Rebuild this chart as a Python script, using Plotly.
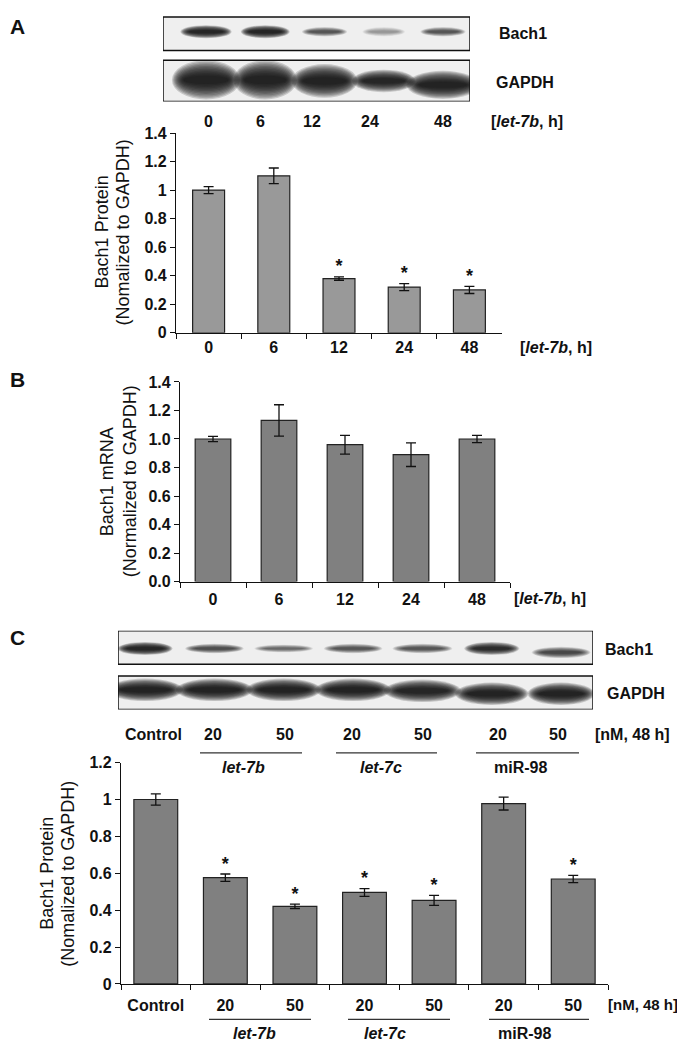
import plotly.graph_objects as go

# ---------------- data ----------------
time_cats = ["0", "6", "12", "24", "48"]
protein_A = [1.00, 1.10, 0.38, 0.32, 0.30]
protein_A_err = [0.025, 0.055, 0.012, 0.025, 0.025]
protein_A_sig = ["", "", "*", "*", "*"]

mrna_B = [1.00, 1.13, 0.96, 0.89, 1.00]
mrna_B_err = [0.018, 0.11, 0.066, 0.083, 0.025]

treat_ids = ["Control", "let-7b 20", "let-7b 50", "let-7c 20", "let-7c 50", "miR-98 20", "miR-98 50"]
treat_labels = ["Control", "20", "50", "20", "50", "20", "50"]
treat_groups = ["let-7b", "let-7c", "miR-98"]
protein_C = [1.00, 0.576, 0.421, 0.496, 0.453, 0.978, 0.569]
protein_C_err = [0.03, 0.02, 0.012, 0.021, 0.027, 0.035, 0.02]
protein_C_sig = ["", "*", "*", "*", "*", "", "*"]

# western blot band intensities (0..1)
blotA_bach1 = [0.95, 0.95, 0.5, 0.22, 0.5]
blotA_gapdh = [1.0, 1.0, 1.0, 0.95, 1.0]
blotC_bach1 = [0.95, 0.55, 0.42, 0.5, 0.5, 0.8, 0.6]
blotC_gapdh = [1.0, 1.0, 1.0, 1.0, 0.95, 1.0, 1.0]

# ---------------- layout helpers ----------------
PAGE_W, PAGE_H = 685, 1050
OFF = 8                      # default body margin of the html page
W, H = PAGE_W - OFF, PAGE_H - OFF
FONT = "Liberation Sans, Arial, sans-serif"


def fx(p):
    """page pixel x -> paper fraction"""
    return (p - OFF) / W


def fy(p):
    """page pixel y -> paper fraction"""
    return 1 - (p - OFF) / H


fig = go.Figure()

bar_line = dict(color="#222222", width=1.2)
err_style = dict(type="data", color="#111111", thickness=1.3)
star_font = dict(family=FONT, size=18, color="#111", weight="bold")

# Chart A
fig.add_trace(go.Bar(x=time_cats, y=protein_A, width=0.49,
                     marker=dict(color="#999999", line=bar_line),
                     error_y=dict(array=protein_A_err, width=5, **err_style),
                     xaxis="x", yaxis="y", showlegend=False))
fig.add_trace(go.Scatter(x=time_cats, y=[v + e for v, e in zip(protein_A, protein_A_err)],
                         mode="text", text=protein_A_sig, textposition="top center",
                         textfont=star_font, xaxis="x", yaxis="y",
                         showlegend=False, cliponaxis=False))
# Chart B
fig.add_trace(go.Bar(x=time_cats, y=mrna_B, width=0.54,
                     marker=dict(color="#808080", line=bar_line),
                     error_y=dict(array=mrna_B_err, width=5, **err_style),
                     xaxis="x2", yaxis="y2", showlegend=False))
# Chart C
fig.add_trace(go.Bar(x=treat_ids, y=protein_C, width=0.63,
                     marker=dict(color="#808080", line=bar_line),
                     error_y=dict(array=protein_C_err, width=5, **err_style),
                     xaxis="x3", yaxis="y3", showlegend=False))
fig.add_trace(go.Scatter(x=treat_ids, y=[v + e for v, e in zip(protein_C, protein_C_err)],
                         mode="text", text=protein_C_sig, textposition="top center",
                         textfont=star_font, xaxis="x3", yaxis="y3",
                         showlegend=False, cliponaxis=False))

tickfont = dict(family=FONT, size=16, color="#111", weight="bold")
common_x = dict(type="category", showline=True, linecolor="#111", linewidth=1.2,
                ticks="outside", ticklen=5, tickcolor="#111", tickwidth=1.2,
                tickson="boundaries", showgrid=False, zeroline=False, tickfont=tickfont,
                fixedrange=True)
common_y = dict(showline=True, linecolor="#111", linewidth=1.2, ticks="outside",
                ticklen=5, tickcolor="#111", tickwidth=1.2, showgrid=False,
                zeroline=False, tickfont=tickfont, dtick=0.2, fixedrange=True)

layout = dict(
    width=W, height=H, margin=dict(l=0, r=0, t=0, b=0),
    paper_bgcolor="white", plot_bgcolor="rgba(0,0,0,0)",
    font=dict(family=FONT, color="#111"),
    xaxis=dict(domain=[fx(176), fx(502)], range=[-0.5, 4.5], anchor="y", **common_x),
    yaxis=dict(domain=[fy(330), fy(127)], range=[0, 1.4], anchor="x", **common_y),
    xaxis2=dict(domain=[fx(180), fx(510)], range=[-0.5, 4.5], anchor="y2",
                ticklabelstandoff=3, **common_x),
    yaxis2=dict(domain=[fy(583), fy(380)], range=[0, 1.4], anchor="x2", tickformat=".1f", **common_y),
    xaxis3=dict(domain=[fx(121), fx(608)], range=[-0.5, 6.5], anchor="y3",
                tickmode="array", tickvals=treat_ids, ticktext=treat_labels,
                ticklabelstandoff=7, **common_x),
    yaxis3=dict(domain=[fy(992), fy(767)], range=[0, 1.2], anchor="x3", **common_y),
    # blot axes: x in lane units, y in page pixels
    xaxis4=dict(domain=[fx(163), fx(470)], range=[0.274, 5.456], visible=False, anchor="y4", fixedrange=True),
    yaxis4=dict(domain=[fy(95), fy(OFF)], range=[95, OFF], visible=False, anchor="x4", fixedrange=True),
    xaxis5=dict(domain=[fx(118), fx(593)], range=[0.61, 7.46], visible=False, anchor="y5", fixedrange=True),
    yaxis5=dict(domain=[fy(713), fy(633)], range=[80, 0], visible=False, anchor="x5", fixedrange=True),
)
fig.update_layout(**layout)

shapes = []
annotations = []

N_LAYERS = 12


def band(xref, yref, xc, yc, w, h, inten):
    # stacked translucent ellipses give a soft, blurred band
    for k in range(N_LAYERS):
        t = k / (N_LAYERS - 1)
        sw = 1.22 - 0.42 * t
        sh = 1.9 - 1.5 * t
        a = 0.17 * inten
        shapes.append(dict(type="circle", xref=xref, yref=yref,
                           x0=xc - w * sw / 2, x1=xc + w * sw / 2,
                           y0=yc - h * sh / 2, y1=yc + h * sh / 2,
                           fillcolor=f"rgba(10,10,10,{a:.3f})", line=dict(width=0)))


def blot_box(xref, yref, x0, x1, y0, y1):
    shapes.append(dict(type="rect", xref=xref, yref=yref, x0=x0, x1=x1, y0=y0, y1=y1,
                       fillcolor="#efefef", line=dict(width=0)))


def blot_border(xref, yref, x0, x1, y0, y1):
    shapes.append(dict(type="rect", xref=xref, yref=yref, x0=x0, x1=x1, y0=y0, y1=y1,
                       fillcolor="rgba(0,0,0,0)", line=dict(color="#111", width=1.5)))


# ---- blot A ----
lspA = (470 - 163) / (5.456 - 0.274)
TOP_A = OFF + 1
blot_box("x4", "y4", 0.274, 5.456, TOP_A, 43)
blot_box("x4", "y4", 0.274, 5.456, 53, 95)
bA_w = [42, 40, 37, 35, 37]
bA_h = [7, 7, 5, 5, 5]
gA_w = [56, 52, 54, 52, 60]
gA_h = [21, 21, 18, 12, 15]
gA_y = [73, 73, 74, 74, 78]
for i, v in enumerate(blotA_bach1):
    band("x4", "y4", i + 1, 24, bA_w[i] / lspA, bA_h[i], v)
for i, v in enumerate(blotA_gapdh):
    band("x4", "y4", i + 1, gA_y[i], gA_w[i] / lspA, gA_h[i], v)
blot_border("x4", "y4", 0.274, 5.456, TOP_A, 43)
blot_border("x4", "y4", 0.274, 5.456, 53, 95)

# ---- blot C ----
lspC = (593 - 118) / (7.46 - 0.61)
blot_box("x5", "y5", 0.61, 7.46, 0, 34)
blot_box("x5", "y5", 0.61, 7.46, 46, 80)
bC_w = [45, 48, 48, 48, 49, 45, 48]
bC_h = [7, 5, 4, 5, 5, 7, 6]
bC_y = [18, 18, 18, 18, 18, 18, 22]
gC_w = [62, 63, 61, 62, 63, 60, 55]
gC_y = [60, 60, 60, 60, 61, 64, 64]
for i, v in enumerate(blotC_bach1):
    band("x5", "y5", i + 1, bC_y[i], bC_w[i] / lspC, bC_h[i], v)
for i, v in enumerate(blotC_gapdh):
    band("x5", "y5", i + 1, gC_y[i], gC_w[i] / lspC, 12, v)
blot_border("x5", "y5", 0.61, 7.46, 0, 34)
blot_border("x5", "y5", 0.61, 7.46, 46, 80)


def text(t, x, y, size=16, bold=True, xanchor="center", angle=0):
    annotations.append(dict(text=t, x=fx(x), y=fy(y), xref="paper", yref="paper",
                            xanchor=xanchor, yanchor="middle", showarrow=False, textangle=angle,
                            font=dict(family=FONT, size=size, color="#111",
                                      weight="bold" if bold else "normal")))


def hline(x0, x1, y):
    shapes.append(dict(type="line", xref="paper", yref="paper", x0=fx(x0), x1=fx(x1),
                       y0=fy(y), y1=fy(y), line=dict(color="#333", width=1.3)))


LET7B_H = "[<i>let-7b</i>, h]"

# panel letters
text("A", 17, 19, size=21)
text("B", 17, 378, size=21)
text("C", 17, 640, size=21)

# blot A labels
text("Bach1", 497, 26, xanchor="left")
text("GAPDH", 494, 76, xanchor="left")
for lab, x in zip(time_cats, [208, 260, 312, 370, 443]):
    text(lab, x, 115)
text(LET7B_H, 489, 115, xanchor="left")

# chart A / B labels
text(LET7B_H, 518, 345, xanchor="left")
text(LET7B_H, 512, 600, xanchor="left")
text("Bach1 Protein", 102, 228, size=18, bold=False, angle=-90)
text("(Nomalized to GAPDH)", 123, 228, size=18, bold=False, angle=-90)
text("Bach1 mRNA", 107, 481, size=18, bold=False, angle=-90)
text("(Normalized to GAPDH)", 130, 481, size=18, bold=False, angle=-90)
text("Bach1 Protein", 47, 880, size=18, bold=False, angle=-90)
text("(Nomalized to GAPDH)", 68, 880, size=18, bold=False, angle=-90)

# blot C labels
text("Bach1", 603, 652, xanchor="left")
text("GAPDH", 605, 697, xanchor="left")
for lab, x in zip(treat_labels, [153, 213, 285, 352, 423, 498, 558]):
    text(lab, x, 738)
text("[nM, 48 h]", 593, 738, xanchor="left")
group_fmt = ["<i>let-7b</i>", "<i>let-7c</i>", "miR-98"]
for (x0, x1), g, gx in zip([(200, 302), (336, 437), (476, 579)], group_fmt, [243, 381, 520]):
    hline(x0, x1, 757)
    text(g, gx, 772)

# chart C group labels
text("[nM, 48 h]", 680, 1013, size=15, xanchor="right")
for (x0, x1), g, gx in zip([(209, 311), (348, 450), (489, 589)], group_fmt, [254, 385, 524]):
    hline(x0, x1, 1028)
    text(g, gx, 1042)

fig.update_layout(shapes=shapes, annotations=annotations)
fig.write_html("out.html")
